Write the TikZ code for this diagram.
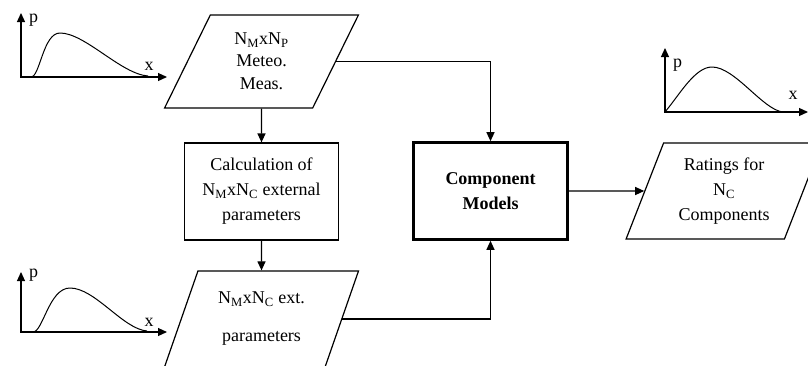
\documentclass[tikz,border=0pt]{standalone}
\usepackage{fontspec}
\setmainfont{Liberation Serif}
\usetikzlibrary{arrows.meta}
\usetikzlibrary{shapes.geometric}
\usetikzlibrary{positioning}
\tikzset{
  IOBox/.style={
    trapezium, trapezium left angle=67, trapezium right angle=113,
    trapezium stretches=true, draw, line width=1.2pt,
    minimum width=194pt, minimum height=93pt,
    align=center, inner sep=0pt,
  },
  ProcBox/.style={
    rectangle, draw, line width=1.2pt,
    minimum width=154pt, minimum height=97pt, align=center,
  },
  Flow/.style={-{Triangle[length=9pt,width=8pt]}, line width=1.2pt},
  Axis/.style={{Triangle[length=9pt,width=8pt]}-{Triangle[length=9pt,width=8pt]}, line width=1.2pt},
  Curve/.style={line width=1pt},
  Lbl/.style={inner sep=0pt},
}

\begin{document}
\begin{tikzpicture}[x=1pt, y=-1pt, font=\fontsize{18}{25}\selectfont]
\useasboundingbox (0,0) rectangle (808,365);
\clip (0,0) rectangle (808,365);
\node[IOBox] (meteo) at (261.5,61.5) {N\textsubscript{M}xN\textsubscript{P}\\[-3pt]Meteo.\\[-2pt]Meas.};
\node[ProcBox] (calc) at (261.5,191.5) {Calculation of\\N\textsubscript{M}xN\textsubscript{C} external\\parameters};
\node[IOBox, minimum height=96pt] (ext) at (261.5,319) {N\textsubscript{M}xN\textsubscript{C} ext.\\[13pt]parameters};
\node[ProcBox, line width=2.6pt, font=\fontsize{18}{25}\selectfont\bfseries] (comp) at (490.5,191) {Component\\Models};
\node[IOBox, minimum width=196pt, minimum height=96pt] (ratings) at (724,191) {Ratings for\\N\textsubscript{C}\\Components};
\draw[Flow] (meteo) -- (calc);
\draw[Flow] (calc) -- (ext);
\draw[Flow] (meteo.east) -| (comp.north);
\draw[Flow] (ext.east) -| (comp.south);
\draw[Flow] (comp.east) -- (ratings.west);
% distribution sketches
\begin{scope}[shift={(21,77)}]
  \draw[Axis] (0,-64) |- (146,0);
  \draw[Curve] (10,0) .. controls (19,0) and (22,-44) .. (39,-44) .. controls (64,-44) and (100,-3) .. (127,-1);
  \node[Lbl, anchor=west] (p1) at (8,-57) {p};
  \node[Lbl] (x1) at (128,-11) {x};
\end{scope}
\begin{scope}[shift={(21,332)}]
  \draw[Axis] (0,-60) |- (146,0);
  \draw[Curve] (12,0) .. controls (22,0) and (28,-44) .. (49,-44) .. controls (74,-44) and (102,-3) .. (126,-1);
  \node[Lbl, anchor=west] (p2) at (8,-57) {p};
  \node[Lbl] (x2) at (128,-10) {x};
\end{scope}
\begin{scope}[shift={(665,112)}]
  \draw[Axis] (0,-64) |- (143,0);
  \draw[Curve] (0,0) .. controls (15,-18) and (30,-45) .. (47,-45) .. controls (70,-45) and (98,-2) .. (118,0);
  \node[Lbl, anchor=west] (p3) at (8,-47) {p};
  \node[Lbl] (x3) at (128,-17) {x};
\end{scope}
\end{tikzpicture}
\end{document}
